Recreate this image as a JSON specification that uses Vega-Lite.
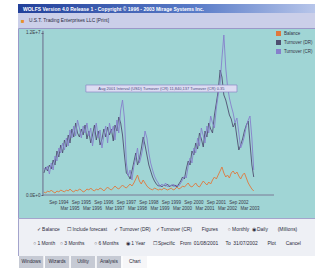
{
  "$schema": "https://vega.github.io/schema/vega-lite/v6.json",
  "padding": {"left": 17, "top": 4, "right": 0, "bottom": 0},
  "background": "#ffffff",
  "spacing": 0,
  "bounds": "flush",
  "resolve": {"scale": {"color": "independent"}, "legend": {"color": "independent"}},
  "config": {"font": "Liberation Sans", "view": {"stroke": null}, "concat": {"spacing": 0}},
  "datasets": {
    "xl": [
      {"t": "1994-09-01"}, {"t": "1995-03-01"}, {"t": "1995-09-01"}, {"t": "1996-03-01"}, {"t": "1996-09-01"}, {"t": "1997-03-01"},
      {"t": "1997-09-01"}, {"t": "1998-03-01"}, {"t": "1998-09-01"}, {"t": "1999-03-01"}, {"t": "1999-09-01"}, {"t": "2000-03-01"},
      {"t": "2000-09-01"}, {"t": "2001-03-01"}, {"t": "2001-09-01"}, {"t": "2002-03-01"}, {"t": "2002-09-01"}, {"t": "2003-03-01"}
    ],
    "series": [
      {"d":"1994-01","b":222000,"dr":1628000,"cr":1998000},
      {"d":"1994-02","b":148000,"dr":2072000,"cr":1850000},
      {"d":"1994-03","b":296000,"dr":1776000,"cr":2146000},
      {"d":"1994-04","b":222000,"dr":2220000,"cr":1554000},
      {"d":"1994-05","b":370000,"dr":1924000,"cr":2368000},
      {"d":"1994-06","b":222000,"dr":2590000,"cr":1850000},
      {"d":"1994-07","b":148000,"dr":2220000,"cr":2886000},
      {"d":"1994-08","b":296000,"dr":3256000,"cr":2516000},
      {"d":"1994-09","b":222000,"dr":2812000,"cr":3478000},
      {"d":"1994-10","b":370000,"dr":3700000,"cr":3108000},
      {"d":"1994-11","b":296000,"dr":3108000,"cr":3848000},
      {"d":"1994-12","b":222000,"dr":4070000,"cr":3330000},
      {"d":"1995-01","b":370000,"dr":3552000,"cr":4218000},
      {"d":"1995-02","b":296000,"dr":4440000,"cr":3626000},
      {"d":"1995-03","b":444000,"dr":3848000,"cr":4810000},
      {"d":"1995-04","b":296000,"dr":4884000,"cr":4218000},
      {"d":"1995-05","b":222000,"dr":4292000,"cr":5106000},
      {"d":"1995-06","b":370000,"dr":5328000,"cr":4366000},
      {"d":"1995-07","b":296000,"dr":4588000,"cr":5550000},
      {"d":"1995-08","b":444000,"dr":4292000,"cr":4958000},
      {"d":"1995-09","b":370000,"dr":4884000,"cr":4218000},
      {"d":"1995-10","b":222000,"dr":4440000,"cr":5106000},
      {"d":"1995-11","b":296000,"dr":5180000,"cr":4588000},
      {"d":"1995-12","b":444000,"dr":4144000,"cr":5328000},
      {"d":"1996-01","b":370000,"dr":4736000,"cr":4366000},
      {"d":"1996-02","b":518000,"dr":3848000,"cr":4958000},
      {"d":"1996-03","b":370000,"dr":4440000,"cr":3626000},
      {"d":"1996-04","b":296000,"dr":5180000,"cr":4588000},
      {"d":"1996-05","b":444000,"dr":4070000,"cr":5328000},
      {"d":"1996-06","b":370000,"dr":4736000,"cr":4218000},
      {"d":"1996-07","b":518000,"dr":3700000,"cr":4810000},
      {"d":"1996-08","b":444000,"dr":4144000,"cr":3478000},
      {"d":"1996-09","b":296000,"dr":4884000,"cr":4366000},
      {"d":"1996-10","b":444000,"dr":4292000,"cr":5106000},
      {"d":"1996-11","b":592000,"dr":5032000,"cr":3848000},
      {"d":"1996-12","b":444000,"dr":4440000,"cr":5328000},
      {"d":"1997-01","b":370000,"dr":4884000,"cr":4588000},
      {"d":"1997-02","b":518000,"dr":3996000,"cr":5106000},
      {"d":"1997-03","b":666000,"dr":5180000,"cr":4070000},
      {"d":"1997-04","b":518000,"dr":4736000,"cr":5550000},
      {"d":"1997-05","b":444000,"dr":5772000,"cr":4588000},
      {"d":"1997-06","b":592000,"dr":5328000,"cr":6290000},
      {"d":"1997-07","b":740000,"dr":4440000,"cr":7030000},
      {"d":"1997-08","b":592000,"dr":2960000,"cr":5698000},
      {"d":"1997-09","b":518000,"dr":1628000,"cr":2368000},
      {"d":"1997-10","b":666000,"dr":1480000,"cr":1406000},
      {"d":"1997-11","b":814000,"dr":1184000,"cr":1850000},
      {"d":"1997-12","b":666000,"dr":1776000,"cr":1110000},
      {"d":"1998-01","b":888000,"dr":2442000,"cr":2146000},
      {"d":"1998-02","b":1184000,"dr":3108000,"cr":2738000},
      {"d":"1998-03","b":1480000,"dr":2220000,"cr":3478000},
      {"d":"1998-04","b":1036000,"dr":2664000,"cr":2368000},
      {"d":"1998-05","b":814000,"dr":3404000,"cr":2886000},
      {"d":"1998-06","b":1110000,"dr":4292000,"cr":3626000},
      {"d":"1998-07","b":888000,"dr":3700000,"cr":4736000},
      {"d":"1998-08","b":666000,"dr":2960000,"cr":4218000},
      {"d":"1998-09","b":518000,"dr":2220000,"cr":3108000},
      {"d":"1998-10","b":444000,"dr":1776000,"cr":2368000},
      {"d":"1998-11","b":370000,"dr":1332000,"cr":1850000},
      {"d":"1998-12","b":518000,"dr":1036000,"cr":1406000},
      {"d":"1999-01","b":444000,"dr":814000,"cr":1110000},
      {"d":"1999-02","b":370000,"dr":666000,"cr":888000},
      {"d":"1999-03","b":444000,"dr":740000,"cr":592000},
      {"d":"1999-04","b":370000,"dr":592000,"cr":814000},
      {"d":"1999-05","b":518000,"dr":740000,"cr":666000},
      {"d":"1999-06","b":444000,"dr":666000,"cr":888000},
      {"d":"1999-07","b":370000,"dr":814000,"cr":592000},
      {"d":"1999-08","b":444000,"dr":592000,"cr":740000},
      {"d":"1999-09","b":518000,"dr":740000,"cr":666000},
      {"d":"1999-10","b":370000,"dr":666000,"cr":814000},
      {"d":"1999-11","b":444000,"dr":740000,"cr":592000},
      {"d":"1999-12","b":592000,"dr":592000,"cr":740000},
      {"d":"2000-01","b":444000,"dr":814000,"cr":666000},
      {"d":"2000-02","b":518000,"dr":1036000,"cr":888000},
      {"d":"2000-03","b":666000,"dr":1332000,"cr":1110000},
      {"d":"2000-04","b":592000,"dr":1184000,"cr":1406000},
      {"d":"2000-05","b":740000,"dr":1924000,"cr":1258000},
      {"d":"2000-06","b":888000,"dr":2516000,"cr":2146000},
      {"d":"2000-07","b":666000,"dr":2220000,"cr":2738000},
      {"d":"2000-08","b":592000,"dr":3256000,"cr":2368000},
      {"d":"2000-09","b":740000,"dr":2960000,"cr":3478000},
      {"d":"2000-10","b":888000,"dr":3848000,"cr":3108000},
      {"d":"2000-11","b":666000,"dr":3404000,"cr":4218000},
      {"d":"2000-12","b":592000,"dr":4588000,"cr":3626000},
      {"d":"2001-01","b":814000,"dr":4144000,"cr":4958000},
      {"d":"2001-02","b":1036000,"dr":3552000,"cr":4366000},
      {"d":"2001-03","b":888000,"dr":4736000,"cr":3848000},
      {"d":"2001-04","b":740000,"dr":4292000,"cr":5106000},
      {"d":"2001-05","b":962000,"dr":5328000,"cr":4588000},
      {"d":"2001-06","b":814000,"dr":4884000,"cr":5846000},
      {"d":"2001-07","b":1110000,"dr":4588000,"cr":5328000},
      {"d":"2001-08","b":1332000,"dr":5920000,"cr":4958000},
      {"d":"2001-09","b":1184000,"dr":6808000,"cr":6438000},
      {"d":"2001-10","b":1480000,"dr":7696000,"cr":7400000},
      {"d":"2001-11","b":1776000,"dr":9250000,"cr":8288000},
      {"d":"2001-12","b":2072000,"dr":8732000,"cr":10138000},
      {"d":"2002-01","b":1628000,"dr":7400000,"cr":11840000},
      {"d":"2002-02","b":1332000,"dr":7030000,"cr":9398000},
      {"d":"2002-03","b":1480000,"dr":6512000,"cr":8066000},
      {"d":"2002-04","b":1258000,"dr":5920000,"cr":7178000},
      {"d":"2002-05","b":1628000,"dr":5624000,"cr":6586000},
      {"d":"2002-06","b":1776000,"dr":5032000,"cr":6068000},
      {"d":"2002-07","b":1554000,"dr":5328000,"cr":5328000},
      {"d":"2002-08","b":1702000,"dr":4292000,"cr":5698000},
      {"d":"2002-09","b":1406000,"dr":3330000,"cr":4588000},
      {"d":"2002-10","b":1184000,"dr":3700000,"cr":3478000},
      {"d":"2002-11","b":1480000,"dr":4144000,"cr":3848000},
      {"d":"2002-12","b":1628000,"dr":4736000,"cr":4366000},
      {"d":"2003-01","b":1258000,"dr":5180000,"cr":5106000},
      {"d":"2003-02","b":888000,"dr":5476000,"cr":5550000},
      {"d":"2003-03","b":666000,"dr":3848000,"cr":5846000},
      {"d":"2003-04","b":444000,"dr":2220000,"cr":4218000},
      {"d":"2003-05","b":296000,"dr":1332000,"cr":1850000}
    ]
  },
  "vconcat": [
    {
      "width": 298, "height": 9,
      "data": {"values": [{"t": "WOLFS Version 4.0 Release 1  -  Copyright © 1996 - 2003 Mirage Systems Inc."}]},
      "layer": [
        {"mark": {"type": "rect", "color": {"gradient": "linear", "x1": 0, "x2": 1, "y1": 0, "y2": 0, "stops": [{"offset": 0, "color": "#22409a"}, {"offset": 0.6, "color": "#5a7cc8"}, {"offset": 1, "color": "#b8c6ea"}]}}, "encoding": {}},
        {"mark": {"type": "text", "align": "left", "baseline": "middle", "dx": 5, "fontSize": 5, "fontWeight": "bold", "color": "#ffffff"},
         "encoding": {"text": {"field": "t"}, "x": {"datum": 0, "type": "quantitative", "scale": {"domain": [0, 1]}, "axis": null}}}
      ]
    },
    {
      "width": 298, "height": 15,
      "view": {"fill": "#cbcfe9", "stroke": null},
      "data": {"values": [{"t": "U.S.T. Trading Enterprises LLC [Print]", "i": "■"}]},
      "encoding": {"x": {"datum": 0, "type": "quantitative", "scale": {"domain": [0, 1]}, "axis": null}},
      "layer": [
        {"mark": {"type": "text", "align": "left", "baseline": "middle", "dx": 3, "fontSize": 6, "color": "#e8902a"}, "encoding": {"text": {"field": "i"}}},
        {"mark": {"type": "text", "align": "left", "baseline": "middle", "dx": 11, "fontSize": 4.8, "color": "#2a2a40"}, "encoding": {"text": {"field": "t"}}}
      ]
    },
    {
      "width": 298, "height": 190,
      "view": {"fill": "#a0d5d5", "stroke": "#9a98c8", "strokeWidth": 1},
      "layer": [
        {
          "data": {"name": "series"},
          "transform": [{"fold": ["b", "dr", "cr"], "as": ["k", "v"]}],
          "mark": {"type": "line", "strokeWidth": 0.9},
          "encoding": {
            "x": {"field": "d", "type": "temporal",
              "scale": {"type": "utc", "domain": [{"year": 1992, "month": 11, "date": 7, "utc": true}, {"year": 2006, "month": 2, "date": 5, "utc": true}]},
              "axis": null},
            "y": {"field": "v", "type": "quantitative",
              "scale": {"domain": [-1702000, 12358000], "nice": false, "zero": false},
              "axis": {"title": null, "offset": -25, "domain": false, "grid": false, "values": [0, 12000000],
                "labelExpr": "upper(format(datum.value, '.1e'))", "tickSize": 2, "tickColor": "#555566",
                "labelFontSize": 4.5, "labelColor": "#3a3a4a", "labelPadding": 1}},
            "color": {"field": "k", "type": "nominal",
              "scale": {"domain": ["b", "dr", "cr"], "range": ["#e0783c", "#4e4e70", "#8680cc"]},
              "legend": {"orient": "top-right", "offset": 3, "title": null, "symbolType": "square", "symbolSize": 4,
                "symbolStrokeWidth": 3, "labelFontSize": 4.5, "labelColor": "#333344", "labelOffset": 3, "rowPadding": 3, "padding": 0,
                "clipHeight": 5,
                "labelExpr": "datum.label == 'b' ? 'Balance' : datum.label == 'dr' ? 'Turnover (DR)' : 'Turnover (CR)'"}}
          }
        },
        {
          "data": {"values": [{}]},
          "mark": {"type": "rule", "color": "#6a6a8a", "strokeWidth": 1},
          "encoding": {"x": {"datum": {"year": 1993, "month": 12, "date": 17, "utc": true}, "type": "temporal", "axis": null},
            "y": {"datum": 0, "type": "quantitative"}, "y2": {"datum": 12150000}}
        },
        {
          "data": {"values": [{}]},
          "mark": {"type": "rule", "color": "#7a7a96", "strokeWidth": 1},
          "encoding": {"x": {"datum": {"year": 1993, "month": 12, "date": 17, "utc": true}, "type": "temporal", "axis": null},
            "x2": {"datum": {"year": 2004, "month": 3, "date": 25, "utc": true}},
            "y": {"datum": 0, "type": "quantitative"}}
        },
        {
          "data": {"name": "xl"},
          "transform": [{"filter": "utcmonth(toDate(datum.t)) == 8"}],
          "mark": {"type": "text", "fontSize": 4.5, "color": "#3a3a4a", "baseline": "top", "dy": 5},
          "encoding": {"x": {"field": "t", "type": "temporal", "axis": null},
            "y": {"datum": 0, "type": "quantitative"},
            "text": {"field": "t", "type": "temporal", "timeUnit": "utcyearmonth", "format": "%b %Y"}}
        },
        {
          "data": {"name": "xl"},
          "transform": [{"filter": "utcmonth(toDate(datum.t)) == 2"}],
          "mark": {"type": "text", "fontSize": 4.5, "color": "#3a3a4a", "baseline": "top", "dy": 11},
          "encoding": {"x": {"field": "t", "type": "temporal", "axis": null},
            "y": {"datum": 0, "type": "quantitative"},
            "text": {"field": "t", "type": "temporal", "timeUnit": "utcyearmonth", "format": "%b %Y"}}
        },
        {
          "data": {"values": [{"a": "1995-11-14", "b": "2002-08-02", "m": "1999-03-25", "lo": 7622000, "hi": 8140000, "c": 7881000,
            "t": "Aug 2001 Interval (USD) Turnover (CR) 11,840,137 Turnover (CR) 0.35"}]},
          "layer": [
            {"mark": {"type": "rect", "fill": "#dcdcf2", "stroke": "#8a86c6", "strokeWidth": 0.7},
             "encoding": {"x": {"field": "a", "type": "temporal", "axis": null}, "x2": {"field": "b"},
               "y": {"field": "lo", "type": "quantitative"}, "y2": {"field": "hi"}}},
            {"mark": {"type": "text", "fontSize": 4, "color": "#4a4a80", "baseline": "middle"},
             "encoding": {"x": {"field": "m", "type": "temporal", "axis": null}, "y": {"field": "c", "type": "quantitative"}, "text": {"field": "t"}}}
          ]
        }
      ]
    },
    {
      "width": 298, "height": 38,
      "view": {"fill": "#eef0f5", "stroke": "#a4a4cc"},
      "data": {"values": [
        {"r": "1", "t": "✓ Balance\u2003\u2002☐ Include forecast\u2003\u2002✓ Turnover (DR)\u2003✓ Turnover (CR)\u2003\u2003Figures\u2003\u2003○ Monthly\u2002◉ Daily\u2003\u2003(Millions)"},
        {"r": "2", "t": "○ 1 Month\u2003○ 3 Months\u2003\u2003○ 6 Months\u2003\u2002◉ 1 Year\u2003\u2002☐ Specific\u2003From\u200201/08/2001\u2003\u2002To\u200231/07/2002\u2003\u2003Plot\u2003\u2003Cancel"}
      ]},
      "mark": {"type": "text", "fontSize": 4.9, "color": "#2a2a3a", "baseline": "middle"},
      "encoding": {
        "y": {"field": "r", "type": "nominal", "scale": {"type": "point", "padding": 0.857}, "axis": null},
        "text": {"field": "t"}
      }
    },
    {
      "width": 298, "height": 12,
      "view": {"fill": "#ffffff", "stroke": null},
      "data": {"values": [{"n": "Windows"}, {"n": "Wizards"}, {"n": "Utility"}, {"n": "Analysis"}, {"n": "Chart"}]},
      "encoding": {"x": {"field": "n", "type": "nominal", "sort": null,
        "scale": {"type": "band", "range": [1, 129], "paddingInner": 0.06, "paddingOuter": 0}, "axis": null}},
      "layer": [
        {"mark": {"type": "rect"}, "encoding": {"color": {"condition": {"test": "datum.n == 'Chart'", "value": "#f6f6f8"}, "value": "#c6cad4"}}},
        {"mark": {"type": "text", "fontSize": 4.8, "color": "#2a2a3a", "baseline": "middle"}, "encoding": {"text": {"field": "n"}}}
      ]
    }
  ]
}
